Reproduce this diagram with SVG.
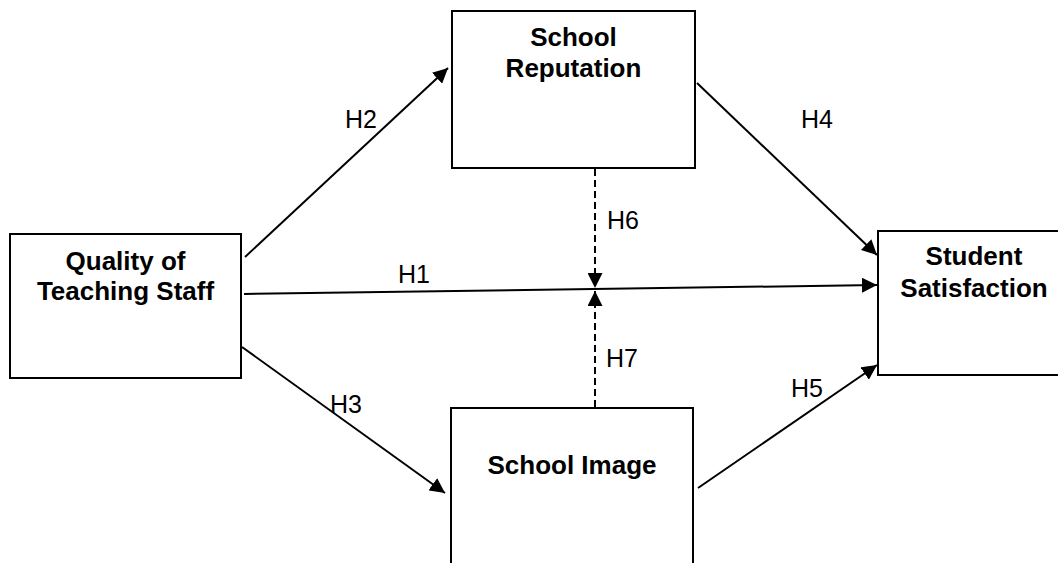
<svg xmlns="http://www.w3.org/2000/svg" width="1058" height="563" viewBox="0 0 1058 563">
  <style>
    .box { fill: #fff; stroke: #000; stroke-width: 2; }
    .title { font-family: "Liberation Sans", Arial, sans-serif; font-size: 26px; font-weight: bold; fill: #000; text-anchor: middle; }
    .lbl { font-family: "Liberation Sans", Arial, sans-serif; font-size: 25px; fill: #000; }
    .edge { stroke: #000; stroke-width: 2; fill: none; marker-end: url(#arr); }
    .dash { stroke-dasharray: 7 4; }
  </style>
  <defs>
    <marker id="arr" markerUnits="userSpaceOnUse" markerWidth="15" markerHeight="15" refX="15" refY="7.5" orient="auto" viewBox="0 0 15 15">
      <path d="M0,0 L15,7.5 L0,15 z" fill="#000"/>
    </marker>
  </defs>
  <rect width="1058" height="563" fill="#fff"/>
  <g id="quality">
    <rect class="box" x="10" y="234" width="231" height="144"/>
    <text class="title" x="125.5" y="270">Quality of</text>
    <text class="title" x="125.5" y="300">Teaching Staff</text>
  </g>
  <g id="reputation">
    <rect class="box" x="452" y="11" width="243" height="157"/>
    <text class="title" x="573.5" y="46">School</text>
    <text class="title" x="573.5" y="77">Reputation</text>
  </g>
  <g id="satisfaction">
    <rect class="box" x="878" y="231" width="200" height="144"/>
    <text class="title" x="974" y="265">Student</text>
    <text class="title" x="974" y="297">Satisfaction</text>
  </g>
  <g id="image">
    <rect class="box" x="451" y="408" width="242" height="170"/>
    <text class="title" x="572" y="474">School Image</text>
  </g>
  <g id="connectors">
    <line class="edge" x1="244" y1="294" x2="877" y2="285"/>
    <line class="edge" x1="245" y1="257" x2="448" y2="68"/>
    <line class="edge" x1="242" y1="347" x2="445" y2="493"/>
    <line class="edge" x1="697" y1="83" x2="877" y2="255"/>
    <line class="edge" x1="698" y1="488" x2="877" y2="365"/>
    <line class="edge dash" x1="595" y1="169" x2="595" y2="288"/>
    <line class="edge dash" x1="595" y1="407" x2="595" y2="291"/>
    <text class="lbl" x="398" y="283">H1</text>
    <text class="lbl" x="345" y="128">H2</text>
    <text class="lbl" x="330" y="413">H3</text>
    <text class="lbl" x="801" y="128">H4</text>
    <text class="lbl" x="791" y="397">H5</text>
    <text class="lbl" x="607" y="229">H6</text>
    <text class="lbl" x="606" y="367">H7</text>
  </g>
</svg>
